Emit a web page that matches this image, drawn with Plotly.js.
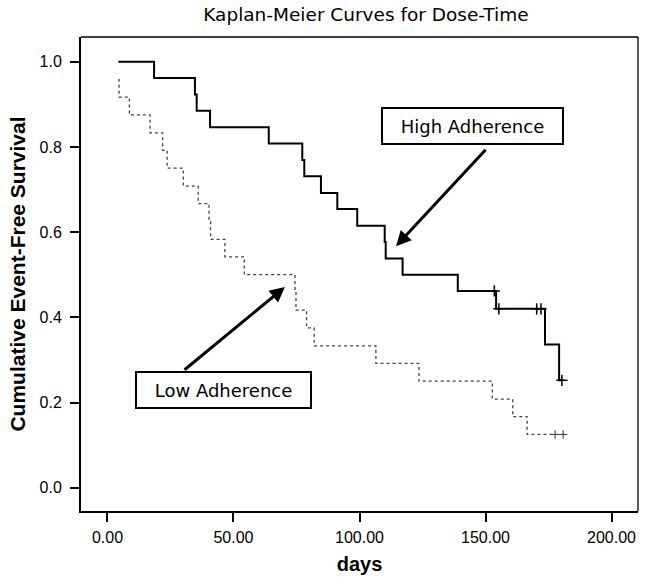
<!DOCTYPE html>
<html>
<head>
<meta charset="utf-8">
<script src="https://cdn.plot.ly/plotly-3.0.1.min.js"></script>
<style>html,body{margin:0;padding:0;background:#fff;}#chart{width:650px;height:586px;}</style>
</head>
<body>
<div id="chart"></div>
<script>
// High adherence Kaplan-Meier step curve (days, survival after event)
const highDays = [4.3, 18.5, 34.7, 35.4, 40.7, 64.0, 77.3, 78.1, 84.7, 91.2, 99.1, 110.0, 110.4, 117.1, 139.0, 154.2, 173.6, 179.2, 180.5];
const highSurv = [1.000, 0.962, 0.923, 0.885, 0.846, 0.808, 0.769, 0.731, 0.692, 0.654, 0.615, 0.577, 0.538, 0.500, 0.462, 0.420, 0.336, 0.252, 0.252];
const highCensDays = [153.5, 155.3, 170.3, 172.0, 180.3];
const highCensSurv = [0.462, 0.420, 0.420, 0.420, 0.252];

// Low adherence Kaplan-Meier step curve
const lowDays = [4.3, 4.6, 8.7, 16.9, 21.9, 23.7, 30.1, 36.0, 40.3, 40.9, 46.6, 54.3, 74.4, 74.8, 79.0, 82.0, 106.5, 123.6, 152.7, 160.8, 166.5, 181.5];
const lowSurv = [0.958, 0.917, 0.875, 0.833, 0.792, 0.750, 0.708, 0.667, 0.625, 0.583, 0.542, 0.500, 0.458, 0.417, 0.375, 0.333, 0.292, 0.250, 0.208, 0.167, 0.125, 0.125];
const lowCensDays = [177.6, 180.8];
const lowCensSurv = [0.125, 0.125];

const xTicks = [0, 50, 100, 150, 200];
const yTicks = [0.0, 0.2, 0.4, 0.6, 0.8, 1.0];

const traces = [
  {x: lowDays, y: lowSurv, type: 'scatter', mode: 'lines', line: {shape: 'hv', color: '#444', width: 1.3, dash: 'dot'}, name: 'Low Adherence', hoverinfo: 'x+y'},
  {x: lowCensDays, y: lowCensSurv, type: 'scatter', mode: 'markers', marker: {symbol: 'cross-thin', size: 6, color: '#444', line: {width: 1.1, color: '#444'}}, showlegend: false},
  {x: highDays, y: highSurv, type: 'scatter', mode: 'lines', line: {shape: 'hv', color: '#000', width: 2}, name: 'High Adherence', hoverinfo: 'x+y'},
  {x: highCensDays, y: highCensSurv, type: 'scatter', mode: 'markers', marker: {symbol: 'cross-thin', size: 8, color: '#000', line: {width: 1.5, color: '#000'}}, showlegend: false}
];

const tickFont = {family: 'Liberation Sans, Arial, sans-serif', size: 16, color: '#000'};
const layout = {
  width: 650, height: 586,
  margin: {l: 81, r: 12, t: 37, b: 75},
  paper_bgcolor: '#fff', plot_bgcolor: '#fff',
  showlegend: false,
  title: {text: 'Kaplan-Meier Curves for Dose-Time', font: {family: 'DejaVu Sans, sans-serif', size: 18.5, color: '#000'}, xref: 'container', x: 0.563, xanchor: 'center', yref: 'container', y: 1 - 15/586, yanchor: 'middle'},
  xaxis: {
    range: [-10.5, 210.5], tickvals: xTicks, tickformat: '.2f', ticks: 'outside', ticklen: 9, tickwidth: 2, tickcolor: '#000',
    ticklabelstandoff: 2,
    showline: true, linewidth: 2, linecolor: '#000', mirror: false, showgrid: false, zeroline: false,
    tickfont: tickFont,
    title: {text: '<b>days</b>', font: {family: 'Liberation Sans, Arial, sans-serif', size: 20, color: '#000'}, standoff: 12}
  },
  yaxis: {
    range: [-0.0547, 1.058], tickvals: yTicks, tickformat: '.1f', ticks: 'outside', ticklen: 9, tickwidth: 2, tickcolor: '#000',
    ticklabelstandoff: 5,
    showline: true, linewidth: 2, linecolor: '#000', mirror: false, showgrid: false, zeroline: false,
    tickfont: tickFont,
    title: {text: '<b>Cumulative Event-Free Survival</b>', font: {family: 'Liberation Sans, Arial, sans-serif', size: 21, color: '#000'}, standoff: 8}
  },
  shapes: [
    {type: 'line', xref: 'paper', yref: 'paper', x0: 0, x1: 1, y0: 1, y1: 1, line: {color: '#000', width: 1.3}},
    {type: 'line', xref: 'paper', yref: 'paper', x0: 1, x1: 1, y0: 0, y1: 1, line: {color: '#000', width: 1.3}}
  ],
  annotations: [
    {x: 114.5, y: 0.567, ax: 150.6, ay: 0.797, xref: 'x', yref: 'y', axref: 'x', ayref: 'y', text: '', showarrow: true, arrowhead: 2, arrowsize: 1, arrowwidth: 3, arrowcolor: '#000'},
    {x: 70.4, y: 0.471, ax: 30.0, ay: 0.274, xref: 'x', yref: 'y', axref: 'x', ayref: 'y', text: '', showarrow: true, arrowhead: 2, arrowsize: 1, arrowwidth: 3, arrowcolor: '#000'},
    {x: 144.8, y: 0.849, xref: 'x', yref: 'y', text: 'High Adherence', showarrow: false, width: 179, height: 34, bordercolor: '#000', borderwidth: 2, borderpad: 0, bgcolor: '#fff', align: 'center', valign: 'middle', font: {family: 'DejaVu Sans, sans-serif', size: 18, color: '#000'}},
    {x: 46.0, y: 0.2296, xref: 'x', yref: 'y', text: 'Low Adherence', showarrow: false, width: 173, height: 34, bordercolor: '#000', borderwidth: 2, borderpad: 0, bgcolor: '#fff', align: 'center', valign: 'middle', font: {family: 'DejaVu Sans, sans-serif', size: 18, color: '#000'}}
  ]
};

Plotly.newPlot('chart', traces, layout, {displayModeBar: false, staticPlot: true});
</script>
</body>
</html>
